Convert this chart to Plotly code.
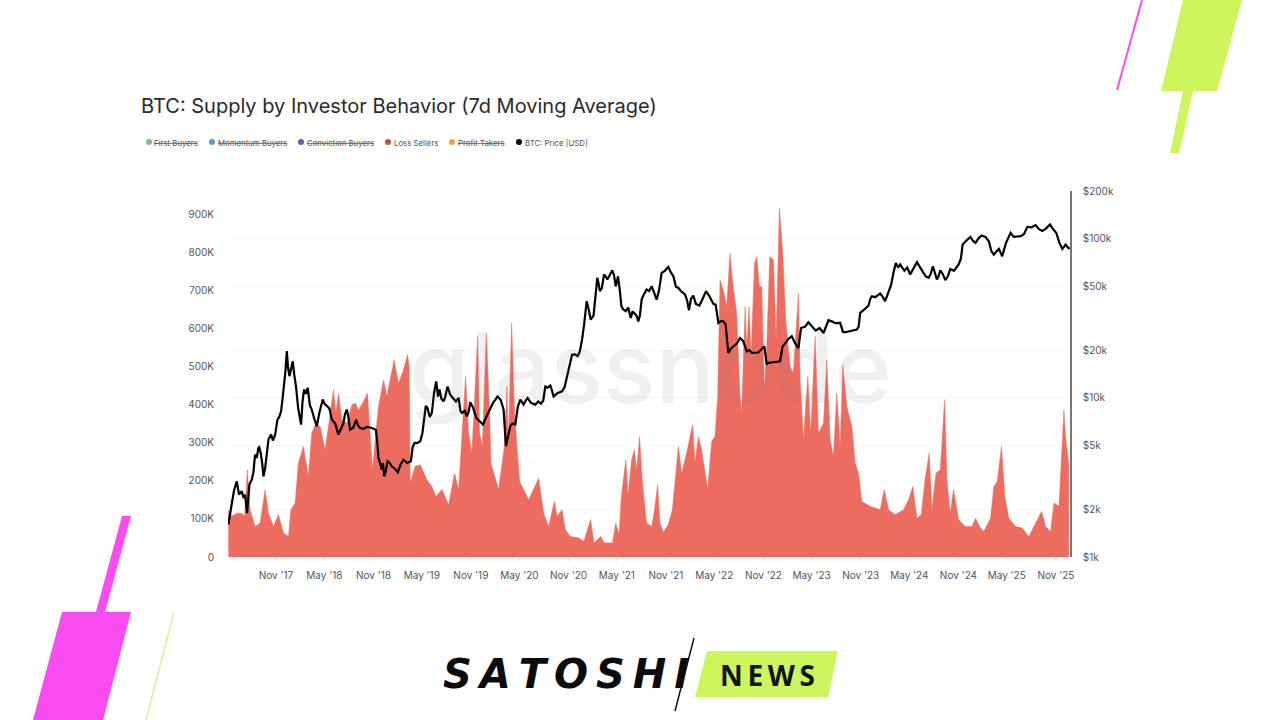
import plotly.graph_objects as go
import pandas as pd

TITLE = "BTC: Supply by Investor Behavior (7d Moving Average)"
LEGEND_NAMES = ["First Buyers", "Momentum Buyers", "Conviction Buyers", "Loss Sellers", "Profit Takers", "BTC: Price [USD]"]
LEGEND_COLORS = ["#7fb99b", "#5b9bd5", "#6a5ab0", "#c0504d", "#e8a53f", "#000000"]
LEGEND_STRUCK = [True, True, True, False, True, False]

loss_years = [2017.343,2017.377,2017.429,2017.480,2017.51,2017.538,2017.566,2017.617,2017.669,2017.720,2017.754,2017.806,2017.857,2017.908,2017.960,2017.984,
2018.028,2018.062,2018.114,2018.165,2018.199,2018.234,2018.285,2018.336,2018.371,2018.422,2018.446,2018.474,2018.508,2018.559,2018.611,2018.645,2018.679,2018.730,2018.771,2018.799,2018.823,2018.850,2018.884,2018.936,2018.970,
2019.045,2019.090,2019.141,2019.183,2019.200,2019.210,2019.261,2019.313,2019.381,2019.432,2019.474,2019.535,2019.604,2019.665,2019.707,2019.741,2019.778,2019.809,2019.843,2019.902,2019.922,2019.950,2019.991,
2020.025,2020.039,2020.118,2020.176,2020.203,2020.217,2020.251,2020.279,2020.306,2020.333,2020.374,2020.426,2020.529,2020.580,2020.631,2020.689,2020.717,2020.768,2020.802,2020.854,2020.940,2020.991,
2021.060,2021.094,2021.163,2021.197,2021.283,2021.317,2021.351,2021.375,2021.420,2021.444,2021.480,2021.508,2021.532,2021.562,2021.590,2021.634,2021.686,2021.713,2021.747,2021.771,2021.806,2021.857,2021.898,2021.960,2021.994,
2022.045,2022.107,2022.131,2022.165,2022.199,2022.261,2022.302,2022.336,2022.364,2022.388,2022.422,2022.456,2022.490,2022.518,2022.559,2022.593,2022.610,2022.645,2022.662,2022.686,2022.706,2022.741,2022.765,2022.792,2022.816,2022.843,2022.867,2022.898,2022.936,2022.963,2022.997,
2023.032,2023.063,2023.107,2023.141,2023.193,2023.210,2023.244,2023.289,2023.319,2023.364,2023.398,2023.450,2023.484,2023.518,2023.552,2023.586,2023.621,2023.648,2023.689,2023.741,2023.775,2023.809,2023.843,2023.929,
2024.032,2024.073,2024.118,2024.186,2024.272,2024.323,2024.367,2024.409,2024.453,2024.494,2024.535,2024.563,2024.604,2024.649,2024.693,2024.717,2024.751,2024.785,2024.837,2024.905,2024.974,
2025.008,2025.059,2025.094,2025.162,2025.196,2025.231,2025.275,2025.309,2025.350,2025.419,2025.487,2025.556,2025.607,2025.686,2025.727,2025.778,2025.813,2025.864,2025.915,2025.932,2025.956,2025.966]
loss_k = [124,107,115,115,107,229,124,80,89,177,115,80,111,63,54,124,
142,246,290,211,325,347,343,281,343,439,378,430,360,351,399,404,386,408,430,308,229,308,395,465,421,
517,456,491,531,500,194,238,242,203,185,159,177,137,220,177,308,474,325,273,579,325,290,587,
378,246,177,290,448,290,614,395,290,198,177,150,207,115,80,146,107,124,72,54,50,41,
98,37,54,37,37,89,59,159,255,163,255,281,229,316,198,89,80,120,190,89,65,85,124,290,220,
273,347,246,316,281,177,303,316,421,727,701,657,797,719,640,421,378,657,552,657,526,771,788,710,710,439,552,788,780,570,915,
797,622,500,483,692,465,308,474,325,579,325,351,517,308,264,430,290,504,395,343,246,220,146,133,
124,177,124,111,124,150,185,102,111,207,273,124,220,229,413,203,115,177,98,80,80,
102,76,67,102,185,198,290,159,102,80,76,54,80,120,80,67,142,133,386,316,264,240]

price_years = [2017.343,2017.371,2017.395,2017.429,2017.453,2017.480,2017.514,2017.535,2017.559,2017.583,2017.617,2017.651,2017.675,2017.703,2017.737,2017.782,2017.823,2017.847,2017.884,2017.919,2017.943,2017.970,
2018.004,2018.038,2018.090,2018.121,2018.158,2018.199,2018.251,2018.312,2018.354,2018.405,2018.473,2018.525,2018.559,2018.593,2018.655,2018.696,2018.765,2018.857,2018.884,2018.919,2018.943,2018.977,
2019.021,2019.083,2019.141,2019.217,2019.254,2019.313,2019.357,2019.388,2019.432,2019.477,2019.511,2019.552,2019.593,2019.648,2019.707,2019.741,2019.792,2019.826,2019.888,2019.957,
2020.025,2020.107,2020.169,2020.193,2020.237,2020.289,2020.340,2020.374,2020.415,2020.494,2020.552,2020.597,2020.648,2020.682,2020.768,2020.820,2020.871,2020.929,2020.974,
2021.019,2021.060,2021.128,2021.155,2021.197,2021.231,2021.282,2021.317,2021.340,2021.375,2021.420,2021.471,2021.508,2021.549,2021.583,2021.634,2021.686,2021.737,2021.788,2021.857,2021.908,2021.960,
2022.028,2022.069,2022.114,2022.176,2022.244,2022.302,2022.343,2022.371,2022.422,2022.473,2022.525,2022.593,2022.662,2022.713,2022.843,2022.867,
2023.004,2023.056,2023.124,2023.193,2023.220,2023.295,2023.450,2023.501,2023.621,2023.672,2023.792,2023.826,2023.912,2023.946,
2024.032,2024.083,2024.145,2024.193,2024.237,2024.340,2024.409,2024.529,2024.573,2024.614,2024.649,2024.700,2024.751,2024.837,2024.878,2024.957,
2025.008,2025.070,2025.145,2025.196,2025.248,2025.282,2025.368,2025.471,2025.539,2025.625,2025.693,2025.772,2025.837,2025.899,2025.933,2025.974]
price_k = [1.6,1.99,2.41,2.99,2.47,2.59,2.47,1.89,2.85,3.06,4.40,4.85,4.51,3.21,4.30,5.88,5.88,7.31,8.24,12.4,19.7,13.7,
17.0,11.8,6.80,11.3,11.6,8.45,6.64,9.77,8.87,7.31,5.88,6.96,8.45,6.32,7.31,6.47,6.57,6.32,4.20,3.54,3.21,4.00,
3.72,3.41,4.09,4.00,5.21,5.34,8.05,8.65,8.05,12.7,11.3,9.53,11.8,10.0,10.0,8.05,7.67,9.39,7.48,6.80,
8.45,10.2,8.45,4.97,6.64,6.80,9.77,9.08,10.0,9.08,9.21,11.8,11.97,10.2,11.0,13.7,18.7,18.3,23.3,
40.6,31.1,56.9,46.9,59.7,55.5,63.5,50.4,58.2,37.8,35.1,31.8,34.3,30.3,41.5,48.0,50.4,41.5,61.1,66.7,58.2,49.2,
44.7,35.6,44.0,38.1,46.9,40.6,38.6,29.6,30.3,19.2,21.1,23.8,19.6,19.2,21.1,16.2,
17.0,22.2,24.4,20.6,27.5,29.9,25.6,30.8,29.6,25.9,26.9,34.3,38.1,43.6,
45.3,40.6,51.6,70.6,69.0,59.7,71.3,56.9,67.3,55.5,63.5,55.0,64.7,69.0,92.1,103,
94.4,105,96.7,79.6,86.5,77.8,109,104,119,122,112,123,109,86.5,92.1,86.5]

# Further readings of the price line between the points above
price_detail_years = [2017.40,2017.44,2017.50,2017.60,2017.635,2017.66,2017.69,2017.72,2017.755,2017.80,2017.835,2017.865,2017.90,2017.93,2017.955,2017.985,
2018.02,2018.06,2018.105,2018.14,2018.18,2018.225,2018.28,2018.33,2018.38,2018.44,2018.50,2018.54,2018.575,2018.625,2018.675,2018.73,2018.81,2018.87,2018.90,2018.93,2018.96,
2019.00,2019.05,2019.11,2019.18,2019.235,2019.28,2019.335,2019.37,2019.41,2019.455,2019.495,2019.53,2019.57,2019.62,2019.68,2019.725,2019.77,2019.81,2019.855,2019.92,2019.99,
2020.06,2020.14,2020.26,2020.315,2020.395,2020.45,2020.525,2020.575,2020.62,2020.66,2020.72,2020.795,2020.845,2020.90,2020.95,2020.995,
2021.04,2021.09,2021.11,2021.14,2021.175,2021.215,2021.255,2021.30,2021.33,2021.36,2021.395,2021.445,2021.49,2021.53,2021.565,2021.60,2021.66,2021.71,2021.76,2021.82,2021.88,2021.935,2021.985,
2022.05,2022.09,2022.14,2022.21,2022.275,2022.32,2022.40,2022.445,2022.50,2022.56,2022.625,2022.69,2022.78,2022.88,2022.94,
2023.03,2023.09,2023.16,2023.26,2023.37,2023.41,2023.54,2023.57,2023.65,2023.73,2023.81,2023.87,2023.93,2023.98,
2024.06,2024.115,2024.17,2024.215,2024.28,2024.31,2024.375,2024.47,2024.50,2024.55,2024.59,2024.63,2024.675,2024.725,2024.79,2024.86,2024.92,2024.985,
2025.04,2025.11,2025.17,2025.22,2025.265,2025.32,2025.40,2025.505,2025.58,2025.66,2025.73,2025.80,2025.87,2025.95]
price_detail_k = [2.6,2.75,2.35,3.4,4.2,4.9,3.9,3.6,5.5,5.4,6.6,7.6,10.0,15,15.6,15.0,
14,8.6,9.5,10.6,9,7.4,8.2,9.2,8.6,6.9,6.5,7.9,7.6,6.5,6.7,6.4,6.5,5.4,3.9,3.9,3.5,
3.9,3.6,3.8,3.9,4.9,5.2,6.0,8.9,7.6,10.8,10.2,9.9,10.2,10.5,9.5,8.3,8.3,8.2,8.7,7.2,7.6,
9.3,9.7,6.9,8.8,9.6,9.3,9.5,9.6,11.6,11.4,10.7,11.7,15.6,18.8,19.5,29,
36,33,47,53,49,58,59,59,54,47,36,37,35,33,33,44,47,46,47,63,62,50,47,
41,42,39,42,44,39,30.5,29,20.5,22,22.8,20,19.3,16.6,16.8,
21,23.5,22,28,26.5,27.5,30.2,29.5,26,26.5,28,36,42,43,
43,46,62,66,63,66,65,62,58,60,62,58,60,58,63,75,98,97,
101,103,84,83,82,94,103,107,118,115,116,116,94,89]

x_tick_dates = ["2017-11-01","2018-05-01","2018-11-01","2019-05-01","2019-11-01","2020-05-01","2020-11-01","2021-05-01","2021-11-01","2022-05-01","2022-11-01","2023-05-01","2023-11-01","2024-05-01","2024-11-01","2025-05-01","2025-11-01"]
x_tick_labels = ["Nov '17","May '18","Nov '18","May '19","Nov '19","May '20","Nov '20","May '21","Nov '21","May '22","Nov '22","May '23","Nov '23","May '24","Nov '24","May '25","Nov '25"]
left_ticks = [0,100,200,300,400,500,600,700,800,900]
left_labels = ["0","100K","200K","300K","400K","500K","600K","700K","800K","900K"]
right_ticks = [1,2,5,10,20,50,100,200]
right_labels = ["$1k","$2k","$5k","$10k","$20k","$50k","$100k","$200k"]
right_minor = [3,4,6,7,8,9,30,40,60,70,80,90]


def to_date(y):
    yr = int(y)
    return pd.Timestamp(year=yr, month=1, day=1) + pd.Timedelta(days=(y - yr) * 365.25)


price_points = sorted(list(zip(price_years, price_k)) + list(zip(price_detail_years, price_detail_k)))

L, R, T, B = 228, 1070, 191, 557
def px(v): return (v - L) / (R - L)
def py(v): return (B - v) / (B - T)
def poly(pts, color):
    p = "M " + " L ".join(f"{px(a):.5f},{py(b):.5f}" for a, b in pts) + " Z"
    return dict(type="path", xref="paper", yref="paper", path=p, fillcolor=color, line=dict(width=0), layer="below")
def seg(a, b, c, d, color, w):
    return dict(type="line", xref="paper", yref="paper", x0=px(a), y0=py(b), x1=px(c), y1=py(d), line=dict(color=color, width=w))

LIME, PINK = "#cdf55c", "#f94bf0"
shapes = [
    poly([(1183,0),(1242,0),(1217,91),(1161,91)], LIME),
    poly([(1183,91),(1193,91),(1179,153),(1170,153)], LIME),
    seg(1142,0,1117,90,PINK,2),
    poly([(122,516),(131,516),(105,612),(96,612)], PINK),
    poly([(62,612),(131,612),(103,720),(33,720)], PINK),
    seg(174,612,146,720,"#dcef9a",1.5),
    poly([(707,651),(838,651),(828,697),(695,697)], LIME),
    seg(694,638,675,711,"#111111",1.5),
]

FONT = "Inter, Arial, sans-serif"
ann = []
def text(x, y, s, size, color, family=FONT, anchor="left", weight=None):
    f = dict(size=size, color=color, family=family)
    if weight:
        f["weight"] = weight
    ann.append(dict(xref="paper", yref="paper", x=px(x), y=py(y), text=s, showarrow=False,
                    xanchor=anchor, yanchor="middle", font=f))

text(139, 106, TITLE, 20, "#2a2a2a")
legend_dots = [149, 212, 301, 388, 452, 519]
legend_text = [152, 216, 305, 392, 456, 523]
for dx, tx, n, c, s in zip(legend_dots, legend_text, LEGEND_NAMES, LEGEND_COLORS, LEGEND_STRUCK):
    shapes.append(dict(type="circle", xref="paper", yref="paper", x0=px(dx-3), x1=px(dx+3), y0=py(145), y1=py(139),
                       fillcolor=c, line=dict(width=0)))
    text(tx, 142.5, f"<s>{n}</s>" if s else n, 7.8, "#555555")
text(650, 367, "glassnode", 98, "rgba(120,120,120,0.11)", anchor="center", weight=500)
text(566, 674, "<b><i>S\u2009A\u2009T\u2009O\u2009S\u2009H\u2009I</i></b>", 40, "#0b0b0b", "DejaVu Sans", "center")
text(767, 675, "<b>N\u2009E\u2009W\u2009S</b>", 28, "#111111", "Open Sans", "center")

fig = go.Figure()
fig.add_trace(go.Scatter(x=[to_date(v) for v in loss_years], y=loss_k, name="Loss Sellers", mode="lines",
                         line=dict(color="#ec6c5f", width=0.5), fill="tozeroy", fillcolor="#ec6c5f", showlegend=False))
fig.add_trace(go.Scatter(x=[to_date(p[0]) for p in price_points], y=[p[1] for p in price_points], name="BTC: Price [USD]",
                         mode="lines", yaxis="y2", line=dict(color="#000000", width=2.2), showlegend=False))

tickfont = dict(size=10, color="#555555", family=FONT)
fig.update_layout(
    width=1280, height=720, margin=dict(l=L, r=1280-R, t=T, b=720-B, pad=0),
    paper_bgcolor="white", plot_bgcolor="white", showlegend=False, shapes=shapes, annotations=ann,
    xaxis=dict(type="date", range=["2017-05-05","2025-12-24"], tickvals=x_tick_dates, ticktext=x_tick_labels,
               tickfont=tickfont, showgrid=False, zeroline=False, ticks="outside", ticklen=3, tickcolor="#e6e6e6",
               showline=False, ticklabelstandoff=6),
    yaxis=dict(range=[0, 960.6], tickvals=left_ticks, ticktext=left_labels, tickfont=tickfont, showgrid=False,
               zeroline=False, ticks="", showline=False, ticklabelstandoff=13),
    yaxis2=dict(overlaying="y", side="right", type="log", range=[0, 2.30103], tickvals=right_ticks, ticktext=right_labels,
                tickfont=tickfont, showgrid=True, gridcolor="#f7f7f7", gridwidth=1, zeroline=False, ticks="",
                showline=True, linecolor="#777777", linewidth=1.5, ticklabelstandoff=9,
                minor=dict(tickvals=right_minor, showgrid=True, gridcolor="#fafafa", ticks="")),
)
fig.write_html("out.html", config=dict(displayModeBar=False), post_script="document.body.style.margin='0';")
